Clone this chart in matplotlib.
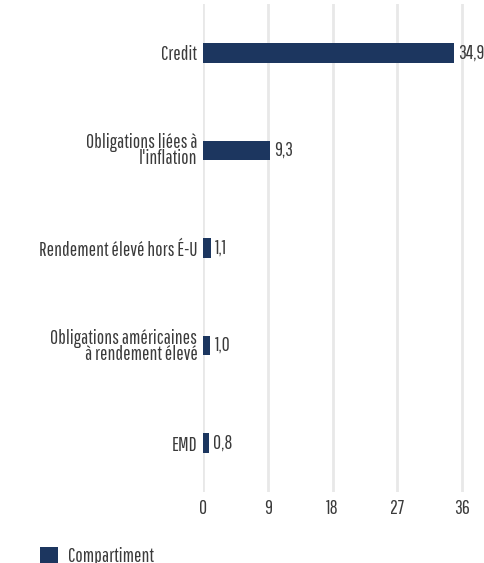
import matplotlib.pyplot as plt
from matplotlib.patches import Patch

plt.rcParams['font.family'] = ['Pathway Gothic One', 'DejaVu Sans']

categories = ["Credit", "Obligations liées à\nl'inflation", "Rendement élevé hors É-U",
              "Obligations américaines\nà rendement élevé", "EMD"]
values = [34.9, 9.3, 1.1, 1.0, 0.8]
ticks = [0, 9, 18, 27, 36]
series_name = "Compartiment"

bar_col = '#1c365f'
txt_col = '#3a3a3a'
fs = 14

fig = plt.figure(figsize=(4.85, 5.63), dpi=100)
ax = fig.add_axes([203 / 485, 1 - 492 / 563, 1 - 203 / 485, 488 / 563])

ypos = list(range(len(categories)))
ax.barh(ypos, values, height=0.2, color=bar_col, zorder=3)
for y, v in zip(ypos, values):
    ax.text(v + 0.6, y, f"{v:.1f}".replace('.', ','), va='center', ha='left',
            fontsize=fs, color=txt_col, clip_on=False)

ax.set_ylim(4.5, -0.5)
ax.set_xlim(0, (485 - 203) / (259 / 36))
ax.set_yticks(ypos)
ax.set_yticklabels(categories, fontsize=fs, color=txt_col, linespacing=0.8)
ax.set_xticks(ticks)
ax.set_xticklabels([str(t) for t in ticks], fontsize=fs, color=txt_col)
ax.tick_params(length=0, pad=4)
ax.tick_params(axis='x', pad=5)
ax.grid(axis='x', color='#e8e8e8', linewidth=2, zorder=0)
for s in ax.spines.values():
    s.set_visible(False)

fig.legend(handles=[Patch(facecolor=bar_col, label=series_name)],
           loc='lower left', bbox_to_anchor=(23 / 485, -21 / 563), frameon=False,
           fontsize=fs, handlelength=0.9, handleheight=1.0, labelcolor=txt_col,
           handletextpad=0.5)

fig.savefig('out.png', dpi=100)
